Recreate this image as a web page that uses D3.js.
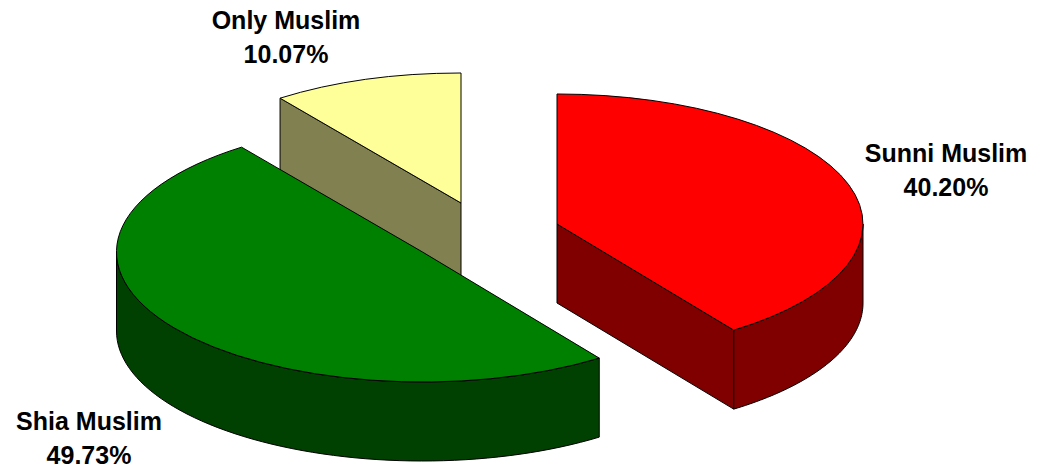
<!DOCTYPE html>
<html><head><meta charset="utf-8">
<script src="https://cdn.jsdelivr.net/npm/d3@7"></script>
<style>html,body{margin:0;background:#fff}svg{display:block}
text{font-family:"Liberation Sans",Arial,sans-serif;font-weight:700;font-size:25px;fill:#000;text-anchor:middle}</style>
</head><body><svg id="c" width="1046" height="469"></svg>
<script>
const categories = ["Sunni Muslim","Shia Muslim","Only Muslim"];
const values = [40.20,49.73,10.07];
const labels = ["40.20%","49.73%","10.07%"];
const topColors = ["#ff0000","#008000","#ffff99"];
const sideColors = ["#800000","#004000","#808050"];
const centers = [[557,224],[422.5,252],[461,203]];
const labelPos = [[946,162],[89,430],[286,29]];
const drawOrder = [2,0,1];
const rx = 306, ry = 130, depth = 79;

const svg = d3.select("#c");
const pie = d3.pie().sort(null).value(d=>d)(values);
const scaleY = ry/rx;
const pt = (c,a,dy=0)=>[c[0]+rx*Math.sin(a), c[1]-ry*Math.cos(a)+dy];
const line = d3.line();
function draw(d,fill){
  return svg.append("path").attr("d",d).attr("fill",fill)
    .attr("stroke","#000").attr("stroke-width",1).attr("stroke-linejoin","round");
}
const arcPts = (c,a0,a1,dy=0)=>d3.range(0,61).map(i=>pt(c,a0+(a1-a0)*i/60,dy));

drawOrder.forEach(i=>{
  const s = pie[i], c = centers[i];
  const cut = i===0 ? s.endAngle : (i===2 ? s.startAngle : null);
  if(cut!==null){
    const e = pt(c,cut);
    draw(line([c,e,[e[0],e[1]+depth],[c[0],c[1]+depth]])+"Z",sideColors[i]);
  }
  const lo = Math.max(s.startAngle,Math.PI/2), hi = Math.min(s.endAngle,Math.PI*1.5);
  if(lo<hi){
    const a = arcPts(c,lo,hi), b = arcPts(c,hi,lo,depth);
    draw(line(a.concat(b))+"Z",sideColors[i]);
  }
  const arc = d3.arc().innerRadius(0).outerRadius(rx);
  svg.append("g").attr("transform",`translate(${c}) scale(1,${scaleY})`)
    .append("path").attr("d",arc(s)).attr("fill",topColors[i]).attr("stroke","#000")
    .attr("vector-effect","non-scaling-stroke");
});

categories.forEach((n,i)=>{
  const t = svg.append("text").attr("x",labelPos[i][0]).attr("y",labelPos[i][1]);
  t.append("tspan").attr("x",labelPos[i][0]).text(n);
  t.append("tspan").attr("x",labelPos[i][0]).attr("dy",34).text(labels[i]);
});
</script></body></html>
